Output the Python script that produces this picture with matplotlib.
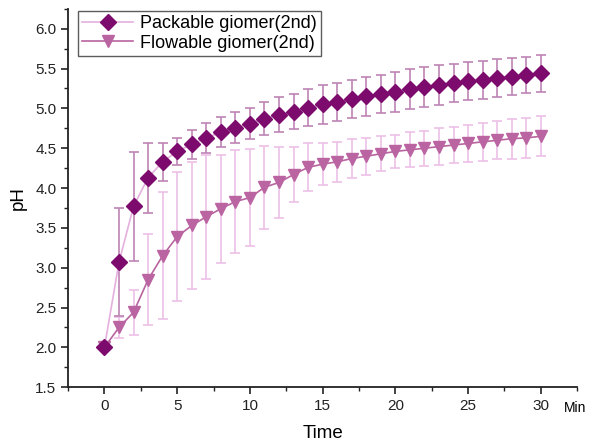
import matplotlib
matplotlib.use("Agg")
import matplotlib.pyplot as plt
from matplotlib.ticker import MultipleLocator

plt.rcParams['font.family'] = ['Liberation Sans', 'DejaVu Sans']

time = list(range(0, 31))

packable = [2.00, 3.07, 3.77, 4.13, 4.33, 4.46, 4.55, 4.63, 4.70, 4.76,
            4.81, 4.87, 4.92, 4.96, 5.01, 5.05, 5.08, 5.12, 5.15, 5.18,
            5.21, 5.24, 5.27, 5.29, 5.32, 5.34, 5.36, 5.38, 5.40, 5.42, 5.44]
packable_err = [0.0, 0.68, 0.68, 0.44, 0.24, 0.17, 0.18, 0.19, 0.19, 0.20,
                0.20, 0.21, 0.22, 0.22, 0.23, 0.24, 0.24, 0.24, 0.24, 0.24,
                0.25, 0.25, 0.25, 0.25, 0.24, 0.24, 0.24, 0.24, 0.23, 0.23, 0.23]

flowable = [2.00, 2.25, 2.44, 2.85, 3.15, 3.39, 3.53, 3.64, 3.74, 3.83,
            3.88, 4.01, 4.07, 4.17, 4.26, 4.30, 4.33, 4.37, 4.40, 4.43,
            4.46, 4.48, 4.50, 4.52, 4.54, 4.56, 4.58, 4.60, 4.62, 4.63, 4.65]
flowable_err = [0.0, 0.13, 0.28, 0.57, 0.80, 0.81, 0.80, 0.78, 0.68, 0.65,
                0.61, 0.52, 0.44, 0.34, 0.30, 0.26, 0.25, 0.24, 0.23, 0.22,
                0.21, 0.22, 0.22, 0.23, 0.23, 0.23, 0.24, 0.24, 0.25, 0.25, 0.25]

fig = plt.figure(figsize=(5.92, 4.42), dpi=100)
ax = fig.add_axes([0.115, 0.124, 0.86, 0.856])

ax.errorbar(time, packable, yerr=packable_err, fmt='none', ecolor='#bd84b5',
            elinewidth=1.2, capsize=3.5, capthick=1.2, zorder=2)
ax.errorbar(time, flowable, yerr=flowable_err, fmt='none', ecolor='#ecc0e6',
            elinewidth=1.2, capsize=3.5, capthick=1.2, zorder=1)
ax.plot(time, packable, color='#e5b0de', lw=1.2, marker='D', markersize=8,
        markerfacecolor='#7d0b6e', markeredgecolor='#7d0b6e',
        label='Packable giomer(2nd)', zorder=4)
ax.plot(time, flowable, color='#b8649f', lw=1.2, marker='v', markersize=9,
        markerfacecolor='#bb64a2', markeredgecolor='#bb64a2',
        label='Flowable giomer(2nd)', zorder=3)

ax.set_xlim(-2.5, 32.5)
ax.set_ylim(1.5, 6.25)
ax.xaxis.set_major_locator(MultipleLocator(5))
ax.xaxis.set_minor_locator(MultipleLocator(2.5))
ax.yaxis.set_major_locator(MultipleLocator(0.5))
ax.yaxis.set_minor_locator(MultipleLocator(0.25))
ax.yaxis.set_major_formatter(plt.FormatStrFormatter('%.1f'))

for side in ['top', 'right']:
    ax.spines[side].set_visible(False)
for side in ['left', 'bottom']:
    ax.spines[side].set_linewidth(1.3)
    ax.spines[side].set_color('#222222')

ax.tick_params(which='major', direction='out', length=5, width=1.2,
               labelsize=11, colors='#222222')
ax.tick_params(which='minor', direction='out', length=3, width=1.0,
               colors='#222222')

ax.set_xlabel('Time', fontsize=13.5, labelpad=9)
ax.set_ylabel('pH', fontsize=13.5, labelpad=6)
fig.text(0.953, 0.076, 'Min', fontsize=10, ha='left', va='center')

leg = ax.legend(loc='upper left', bbox_to_anchor=(0.012, 1.005), fontsize=13,
                frameon=True, fancybox=False, edgecolor='#333333',
                handlelength=2.8, borderpad=0.25, labelspacing=0.15,
                handletextpad=0.4, borderaxespad=0.2)
leg.get_frame().set_linewidth(1.0)

fig.savefig('out.png', dpi=100)
